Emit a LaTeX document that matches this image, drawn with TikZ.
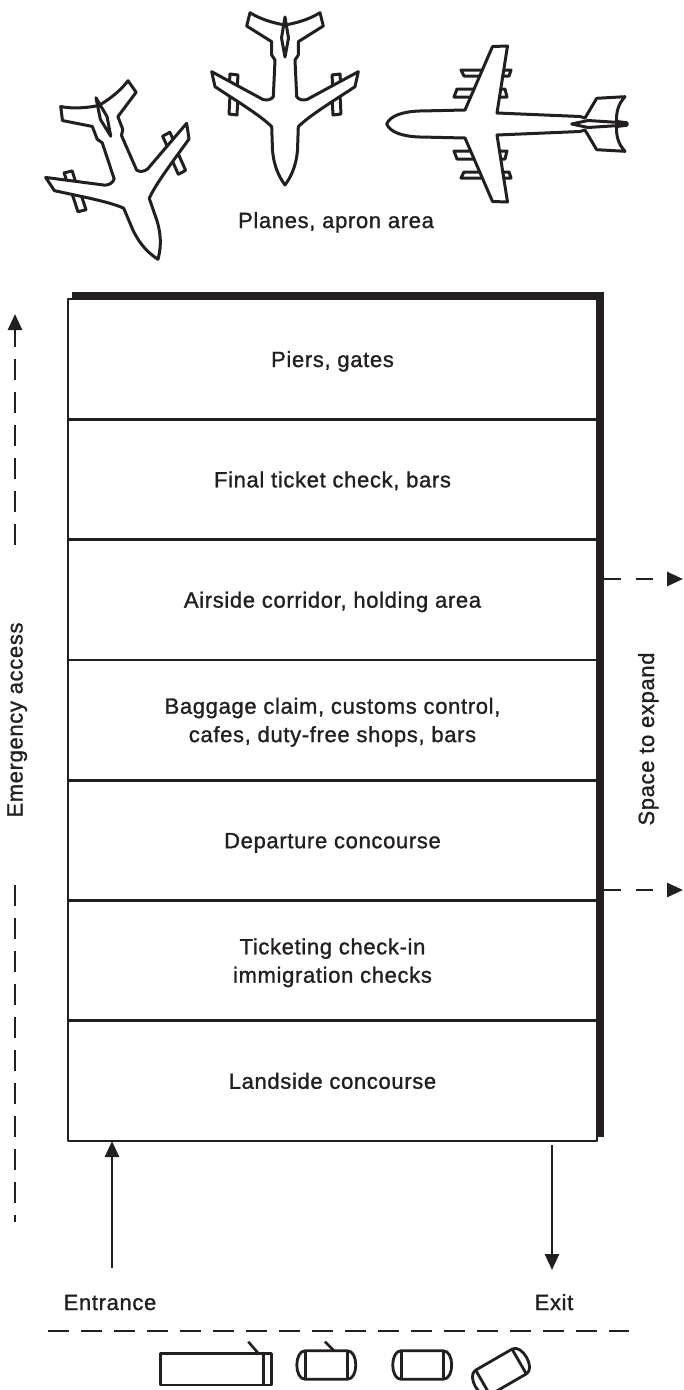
\documentclass[tikz,border=0pt]{standalone}
\usepackage{fontspec}
\setmainfont{Liberation Sans}[LetterSpace=3,FakeBold=1.2]
\usetikzlibrary{arrows.meta,calc}
\definecolor{ink}{HTML}{231F20}

% twin-engined airliner seen from above, wing root at the origin, nose towards +y
\newcommand\twinjet{%
  \foreach \s in {1,-1}{%
    \draw[plane] (\s*47,-35) -- (\s*55,-36) -- (\s*56,-20) -- (\s*48,-19) -- cycle;
    \draw[plane] (\s*47,-14) -- (\s*55,-15) -- (\s*56,4) -- (\s*48,5) -- cycle;
  }
  \draw[plane] (0,-85) .. controls (12,-87) and (25,-91) .. (35,-97.3) -- (38.3,-84)
    -- (13.3,-68.3) -- (13.3,-55) -- (10,-50) -- (11.7,-13.3)
    .. controls (14,-10) and (18,-9.5) .. (22,-10.5) -- (73.3,-38.3) -- (70,-23.3)
    .. controls (50,-10) and (25,5) .. (13.3,16.7) -- (12.5,40)
    .. controls (11,58) and (5,68) .. (0,75)
    .. controls (-5,68) and (-11,58) .. (-12.5,40) -- (-13.3,16.7)
    .. controls (-25,5) and (-50,-10) .. (-70,-23.3) -- (-73.3,-38.3) -- (-22,-10.5)
    .. controls (-18,-9.5) and (-14,-10) .. (-11.7,-13.3) -- (-10,-50) -- (-13.3,-55)
    -- (-13.3,-68.3) -- (-38.3,-84) -- (-35,-97.3) .. controls (-25,-91) and (-12,-87) .. cycle;
  \draw[plane] (0,-93) -- (3.5,-72) -- (0,-53) -- (-3.5,-72) -- cycle;
}

% small car seen from above, centred on the origin
\newcommand\carbody{%
  \draw[car] (-21,-14.3) -- (21,-14.3) .. controls (32.3,-14.3) and (32.3,14.3) .. (21,14.3)
    -- (-21,14.3) .. controls (-32.3,14.3) and (-32.3,-14.3) .. (-21,-14.3) -- cycle;
  \draw[car] (-21,-14.3) -- (-21,14.3) (21,-14.3) -- (21,14.3);
}

\begin{document}
\begin{tikzpicture}[x=1pt,y=-1pt,line join=round,
  every node/.style={text=ink,inner sep=0pt,outer sep=0pt},
  txt/.style={font=\fontsize{22}{28}\selectfont,anchor=base},
  zone/.style={draw=ink,line width=2.7pt,minimum width=529pt,minimum height=120.29pt},
  rule/.style={draw=ink,line width=2.6pt},
  plane/.style={draw=ink,fill=white,line width=3pt,line join=round},
  car/.style={draw=ink,fill=white,line width=2.8pt},
  tip/.style={-{Triangle[length=16pt,width=14pt]}},
  shortdash/.style={dash pattern=on 17pt off 15.5pt},
  longdash/.style={dash pattern=on 21pt off 12pt}]
\useasboundingbox (0,0) rectangle (683,1390);

% aircraft on the apron
\begin{scope}[shift={(130.3,187.2)},rotate=21,scale=1.03]\twinjet\end{scope}
\begin{scope}[shift={(285,110)}]\twinjet\end{scope}

% four-engined airliner, nose to the left
\foreach \m in {0,1}{%
  \begin{scope}[yshift=\m*(-248pt),yscale=1-2*\m]
    \draw[plane] (461,70) -- (485,70) -- (485,76) -- (464,76) -- cycle;
    \draw[plane] (457,89) -- (478,89) -- (478,97) -- (454,97) -- cycle;
    \draw[plane] (494,70) -- (511,70) -- (509,76) -- (494,76) -- cycle;
    \draw[plane] (490,89) -- (505,89) -- (507,97) -- (490,97) -- cycle;
  \end{scope}
}
\draw[plane] (386.7,124) .. controls (390,116) and (402,111.5) .. (420,111) -- (465,110)
  -- (492.5,46.5) -- (507.5,46) -- (497,113) -- (580,116.5) -- (585,118)
  -- (596.7,98.3) -- (625,96.7) .. controls (618,104) and (616,113) .. (616.7,121.5)
  -- (626.7,122.7) -- (626.7,125.3) -- (616.7,126.5)
  .. controls (616,135) and (618,144) .. (625,151.3) -- (596.7,149.7) -- (585,130)
  -- (580,131.5) -- (497,135) -- (507.5,202) -- (492.5,201.5) -- (465,138) -- (420,137)
  .. controls (402,136.5) and (390,132) .. cycle;
\draw[plane] (571.7,124) -- (588,120.5) -- (627,123) -- (627,125) -- (588,127.5) -- cycle;

\node[txt] (apron) at (336,228) {Planes, apron area};

% terminal zones, airside at the top
\node[zone] (r1) at (332.5,359.14) {};
\node[zone] (r2) at (332.5,479.43) {};
\node[zone] (r3) at (332.5,599.71) {};
\node[zone] (r4) at (332.5,720.00) {};
\node[zone] (r5) at (332.5,840.29) {};
\node[zone] (r6) at (332.5,960.57) {};
\node[zone] (r7) at (332.5,1080.86) {};

\node[txt] (t1) at ($(r1.center)+(0,7.9)$) {Piers, gates};
\node[txt] (t2) at ($(r2.center)+(0,7.9)$) {Final ticket check, bars};
\node[txt] (t3) at ($(r3.center)+(0,7.9)$) {Airside corridor, holding area};
\node[txt] (t4a) at ($(r4.center)+(0,-6.3)$) {Baggage claim, customs control,};
\node[txt] (t4b) at ($(r4.center)+(0,22.1)$) {cafes, duty-free shops, bars};
\node[txt] (t5) at ($(r5.center)+(0,7.9)$) {Departure concourse};
\node[txt] (t6a) at ($(r6.center)+(0,-6.3)$) {Ticketing check-in};
\node[txt] (t6b) at ($(r6.center)+(0,22.1)$) {immigration checks};
\node[txt] (t7) at ($(r7.center)+(0,7.9)$) {Landside concourse};

% heavy outer wall along the top and the right
\draw[draw=ink,line width=7.6pt,line cap=butt,line join=miter]
  (72,295.7) -- (599.7,295.7) -- (599.7,1137);

% room to grow on the right
\coordinate (g1) at (603.5,579);
\coordinate (g1e) at (683,579);
\coordinate (g2) at (603.5,890);
\coordinate (g2e) at (683,890);
\draw[rule,shortdash,tip] (g1) -- (g1e);
\draw[rule,shortdash,tip] (g2) -- (g2e);
\node[txt,rotate=90] (grow) at (654,739) {Space to expand};

% emergency access along the left
\coordinate (em0) at (15,314);
\coordinate (em1) at (15,545);
\coordinate (em2) at (15,885);
\coordinate (em3) at (15,1222);
\draw[rule,longdash,tip] (em1) -- (em0);
\draw[rule,longdash] (em2) -- (em3);
\node[txt,rotate=90] (emergency) at (22.5,720) {Emergency access};

% way in and way out
\coordinate (in) at (112,1268);
\coordinate (out0) at (552,1145);
\coordinate (out) at (552,1270);
\draw[rule,tip] (in) -- (in |- r7.south);
\draw[rule,tip] (out0) -- (out);
\node[txt] (entrance) at (110,1310) {Entrance};
\node[txt] (exit) at (554,1310) {Exit};

% kerb and vehicles
\coordinate (kerbL) at (48,1331);
\coordinate (kerbR) at (629,1331);
\draw[rule,longdash,line width=2.8pt] (kerbL) -- (kerbR);

\draw[car] (160.7,1353.3) rectangle (271.7,1385);
\draw[car] (263.3,1353.3) -- (263.3,1385);
\draw[rule] (248.3,1341.7) -- (258.3,1353.3);
\begin{scope}[shift={(326.3,1365)}]\carbody\draw[rule] (-1.3,-23.3) -- (7.7,-14.3);\end{scope}
\begin{scope}[shift={(422.2,1365)}]\carbody\end{scope}
\begin{scope}[shift={(501,1372)},rotate=30]\carbody\end{scope}
\end{tikzpicture}
\end{document}
